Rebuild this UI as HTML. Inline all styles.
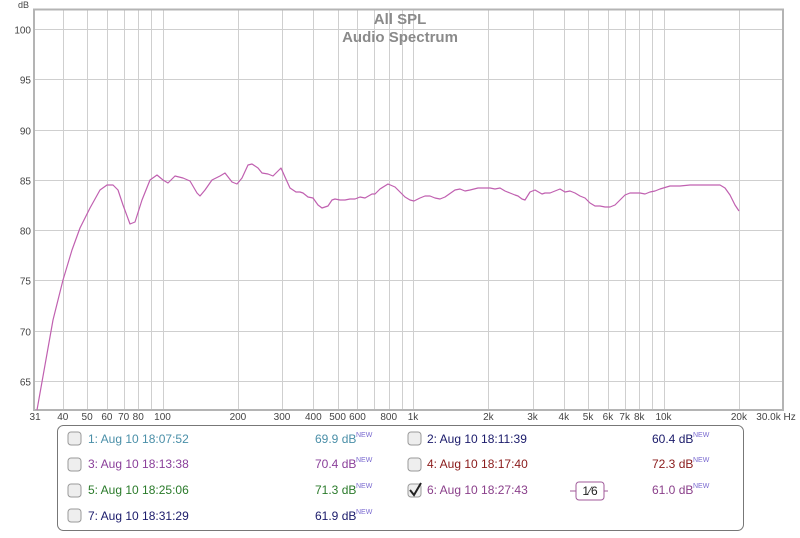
<!DOCTYPE html>
<html><head><meta charset="utf-8"><style>
body{margin:0;background:#fff;width:800px;height:533px;overflow:hidden;font-family:"Liberation Sans",sans-serif}
svg text{font-family:"Liberation Sans",sans-serif}
</style></head><body>
<svg id="s" width="800" height="533" xmlns="http://www.w3.org/2000/svg">
<rect x="0" y="0" width="800" height="533" fill="#fff"/>
<g id="grid" stroke="#cfcfcf" stroke-width="1"></g>
<rect x="34" y="9.5" width="749" height="400.5" fill="none" stroke="#b4b4b4" stroke-width="2"/>
<text x="400" y="24" text-anchor="middle" font-size="15" font-weight="bold" fill="#8a8a8a">All SPL</text>
<text x="400" y="42" text-anchor="middle" font-size="15" font-weight="bold" fill="#8a8a8a">Audio Spectrum</text>
<text x="18" y="8" font-size="9" fill="#444">dB</text>
<g id="ylab" font-size="10" fill="#444" text-anchor="end"></g>
<g id="xlab" font-size="10" fill="#444" text-anchor="middle"></g>
<path fill="none" stroke="#c060b0" stroke-width="1.2" stroke-linejoin="round" d="M37,410 L45,365 L53,320 L63,280 L72,250 L80,228 L90,208 L100,190 L107,185 L113,185 L118,190 L123,205 L130,224 L135,222 L142,200 L150,180 L157,175 L163,180 L168,183 L175,176 L183,178 L190,181 L197,193 L200,196 L205,190 L212,180 L220,176 L225,173 L232,182 L237,184 L242,178 L248,165 L252,164 L258,168 L262,173 L268,174 L273,176 L279,170 L281,168 L285,177 L290,188 L296,192 L300,192 L303,193 L308,197 L313,198 L318,205 L322,208 L328,206 L332,200 L335,199 L340,200 L345,200 L350,199 L355,199 L360,197 L365,198 L372,194 L375,194 L380,189 L388,184 L395,187 L400,192 L405,197 L410,200 L414,201 L420,198 L425,196 L430,196 L435,198 L440,199 L445,197 L455,190 L460,189 L465,191 L470,190 L478,188 L485,188 L490,188 L495,189 L500,188 L505,191 L510,193 L515,195 L518,196 L522,199 L525,200 L530,192 L535,190 L542,194 L545,193 L550,193 L555,191 L560,189 L565,192 L570,191 L575,193 L580,196 L585,198 L590,203 L595,206 L600,206 L605,207 L610,207 L615,205 L620,200 L625,195 L630,193 L635,193 L640,193 L645,194 L650,192 L655,191 L660,189 L670,186 L680,186 L690,185 L700,185 L715,185 L720,185 L725,188 L730,195 L735,205 L739,211"/>
<rect x="57.5" y="425.5" width="686" height="105" rx="6" fill="#fff" stroke="#777"/>
<g font-size="12">
<g fill="#eee" stroke="#999"><rect x="68" y="432" width="13" height="13" rx="3"/><rect x="68" y="458" width="13" height="13" rx="3"/><rect x="68" y="484" width="13" height="13" rx="3"/><rect x="68" y="509" width="13" height="13" rx="3"/><rect x="408" y="432" width="13" height="13" rx="3"/><rect x="408" y="458" width="13" height="13" rx="3"/><rect x="408" y="484" width="13" height="13" rx="3"/></g>
<path d="M410,490 L414,495 L421,483" fill="none" stroke="#222" stroke-width="2"/>
<text x="88" y="443" fill="#4a8fa8">1: Aug 10 18:07:52</text>
<text x="88" y="468" fill="#8a3f9a">3: Aug 10 18:13:38</text>
<text x="88" y="494" fill="#2a7a2a">5: Aug 10 18:25:06</text>
<text x="88" y="520" fill="#1a1a6a">7: Aug 10 18:31:29</text>
<text x="427" y="443" fill="#1a1a6a">2: Aug 10 18:11:39</text>
<text x="427" y="468" fill="#8a1a1a">4: Aug 10 18:17:40</text>
<text x="427" y="494" fill="#8a3f8a">6: Aug 10 18:27:43</text>
<text x="315" y="443" fill="#4a8fa8">69.9 dB</text>
<text x="315" y="468" fill="#8a3f9a">70.4 dB</text>
<text x="315" y="494" fill="#2a7a2a">71.3 dB</text>
<text x="315" y="520" fill="#1a1a6a">61.9 dB</text>
<text x="652" y="443" fill="#1a1a6a">60.4 dB</text>
<text x="652" y="468" fill="#8a1a1a">72.3 dB</text>
<text x="652" y="494" fill="#8a3f8a">61.0 dB</text>
</g>
<g font-size="7" fill="#7a6ad0"><text x="356" y="437">NEW</text><text x="356" y="462">NEW</text><text x="356" y="488">NEW</text><text x="356" y="514">NEW</text><text x="693" y="437">NEW</text><text x="693" y="462">NEW</text><text x="693" y="488">NEW</text></g>
<line x1="570" y1="491" x2="608" y2="491" stroke="#a05a9a"/>
<rect x="576" y="482" width="28" height="18" rx="3" fill="#fff" stroke="#a05a9a"/>
<text x="590" y="495" text-anchor="middle" font-size="12" fill="#222">1⁄6</text>
</svg>
<script>
var X=function(f){return 413+250.5*Math.log10(f/1000)};
var g=document.getElementById('grid'),ns='http://www.w3.org/2000/svg';
function ln(a,b,c,d){var l=document.createElementNS(ns,'line');l.setAttribute('x1',a);l.setAttribute('y1',b);l.setAttribute('x2',c);l.setAttribute('y2',d);g.appendChild(l);}
var fs=[40,50,60,70,80,90,100,200,300,400,500,600,700,800,900,1000,2000,3000,4000,5000,6000,7000,8000,9000,10000,20000];
fs.forEach(function(f){var x=Math.round(X(f))+0.5;ln(x,10,x,410);});
for(var d=65;d<=100;d+=5){var y=Math.round(29+(100-d)*10.05)+0.5;ln(34,y,783,y);
var t=document.createElementNS(ns,'text');t.setAttribute('x',31);t.setAttribute('y',y+4);t.textContent=d;document.getElementById('ylab').appendChild(t);}
var labs=[[31,'31'],[40,'40'],[50,'50'],[60,'60'],[70,'70'],[80,'80'],[100,'100'],[200,'200'],[300,'300'],[400,'400'],[500,'500'],[600,'600'],[800,'800'],[1000,'1k'],[2000,'2k'],[3000,'3k'],[4000,'4k'],[5000,'5k'],[6000,'6k'],[7000,'7k'],[8000,'8k'],[10000,'10k'],[20000,'20k']];
labs.forEach(function(p){var t=document.createElementNS(ns,'text');t.setAttribute('x',X(p[0]));t.setAttribute('y',420);t.textContent=p[1];document.getElementById('xlab').appendChild(t);});
var t=document.createElementNS(ns,'text');t.setAttribute('x',776);t.setAttribute('y',420);t.textContent='30.0k Hz';document.getElementById('xlab').appendChild(t);
</script>
</body></html>
